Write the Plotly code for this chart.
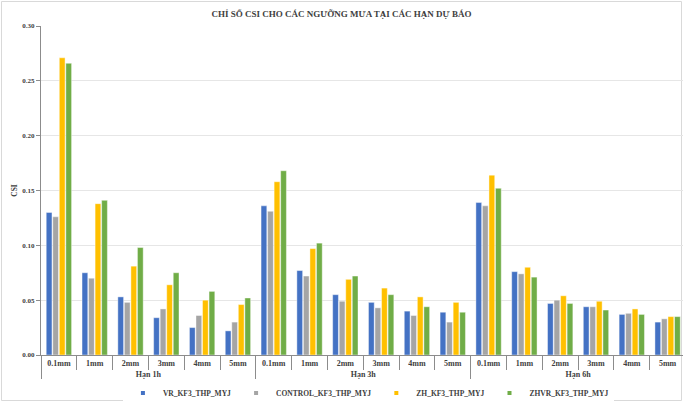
import plotly.graph_objects as go

groups = ["Hạn 1h", "Hạn 3h", "Hạn 6h"]
thresholds = ["0.1mm", "1mm", "2mm", "3mm", "4mm", "5mm"]
series_names = ["VR_KF3_THP_MYJ", "CONTROL_KF3_THP_MYJ", "ZH_KF3_THP_MYJ", "ZHVR_KF3_THP_MYJ"]

vr = [0.130, 0.075, 0.053, 0.034, 0.025, 0.022,
      0.136, 0.077, 0.055, 0.048, 0.040, 0.039,
      0.139, 0.076, 0.047, 0.044, 0.037, 0.030]
control = [0.126, 0.070, 0.048, 0.042, 0.036, 0.030,
           0.131, 0.072, 0.049, 0.043, 0.036, 0.030,
           0.136, 0.074, 0.050, 0.044, 0.038, 0.033]
zh = [0.271, 0.138, 0.081, 0.064, 0.050, 0.046,
      0.158, 0.097, 0.069, 0.061, 0.053, 0.048,
      0.164, 0.080, 0.054, 0.049, 0.042, 0.035]
zhvr = [0.266, 0.141, 0.098, 0.075, 0.058, 0.052,
        0.168, 0.102, 0.072, 0.055, 0.044, 0.039,
        0.152, 0.071, 0.047, 0.041, 0.037, 0.035]

colors = ["#4472C4", "#A5A5A5", "#FFC000", "#70AD47"]

# bold labels via HTML tags (styling only)
x_outer = ["<b>" + g + "</b>" for g in groups for _ in thresholds]
x_inner = [t for _ in groups for t in thresholds]

fig = go.Figure()
for name, vals, c in zip(series_names, [vr, control, zh, zhvr], colors):
    fig.add_trace(go.Bar(x=[x_outer, x_inner], y=vals, name=name, showlegend=False,
                         marker=dict(color=c, line=dict(color="rgba(255,255,255,0.7)", width=0.6))))
# legend-only entries with small square symbols
for name, c in zip(series_names, colors):
    fig.add_trace(go.Scatter(x=[None], y=[None], mode="markers", name="<b>" + name + "</b>",
                             marker=dict(symbol="square", size=4, color=c)))

font_family = "Liberation Serif"
L, R, T, B = 41, 0, 26, 47
W, H = 683, 402
pw, ph = W - L - R, H - T - B

fig.update_layout(
    width=W, height=H,
    margin=dict(l=L, r=R, t=T, b=B, autoexpand=False),
    paper_bgcolor="white", plot_bgcolor="white",
    barmode="group", bargap=0.27, bargroupgap=0.12,
    font=dict(family=font_family, size=8, color="#404040"),
    title=dict(text="<b>CHỈ SỐ CSI CHO CÁC NGƯỠNG MƯA TẠI CÁC HẠN DỰ BÁO</b>",
               x=0.5, xanchor="center", y=1 - 14 / H, yanchor="middle",
               font=dict(family=font_family, size=9, color="#404040")),
    legend=dict(orientation="h", x=0.51, xanchor="center", yref="container", y=1 - 393 / H, yanchor="middle",
                font=dict(family=font_family, size=7.5, color="#404040"),
                itemwidth=30, traceorder="normal", tracegroupgap=0),
    yaxis=dict(range=[0, 0.30], dtick=0.05, tickformat=".2f", automargin=False,
               showgrid=True, gridcolor="#E6E6E6", gridwidth=1,
               showline=True, linecolor="#8C8C8C", linewidth=1,
               ticks="outside", ticklen=4, tickcolor="#8C8C8C",
               tickprefix="<b>", ticksuffix="</b>",
               tickfont=dict(family=font_family, size=7, color="#404040"),
               title=dict(text="<b>CSI</b>", font=dict(family=font_family, size=7.5), standoff=3),
               zeroline=False),
    xaxis=dict(showline=True, linecolor="#8C8C8C", linewidth=1, automargin=False,
               range=[-0.5, 17.43],
               ticks="outside", ticklen=14, tickcolor="#8C8C8C",
               tickprefix="<b>", ticksuffix="</b>",
               tickfont=dict(family=font_family, size=8, color="#404040"),
               dividercolor="#8C8C8C", dividerwidth=1),
    shapes=[dict(type="rect", xref="paper", yref="paper",
                 x0=(-L + 1.5) / pw, x1=(W - L - 1.5) / pw,
                 y0=(-B + 1.5) / ph, y1=(H - B - 1.5) / ph,
                 line=dict(color="#D9D9D9", width=1), layer="below")],
)
fig.write_html("out.html", config={"displayModeBar": False},
               post_script="document.body.style.margin='0px';document.body.style.overflow='hidden';")
